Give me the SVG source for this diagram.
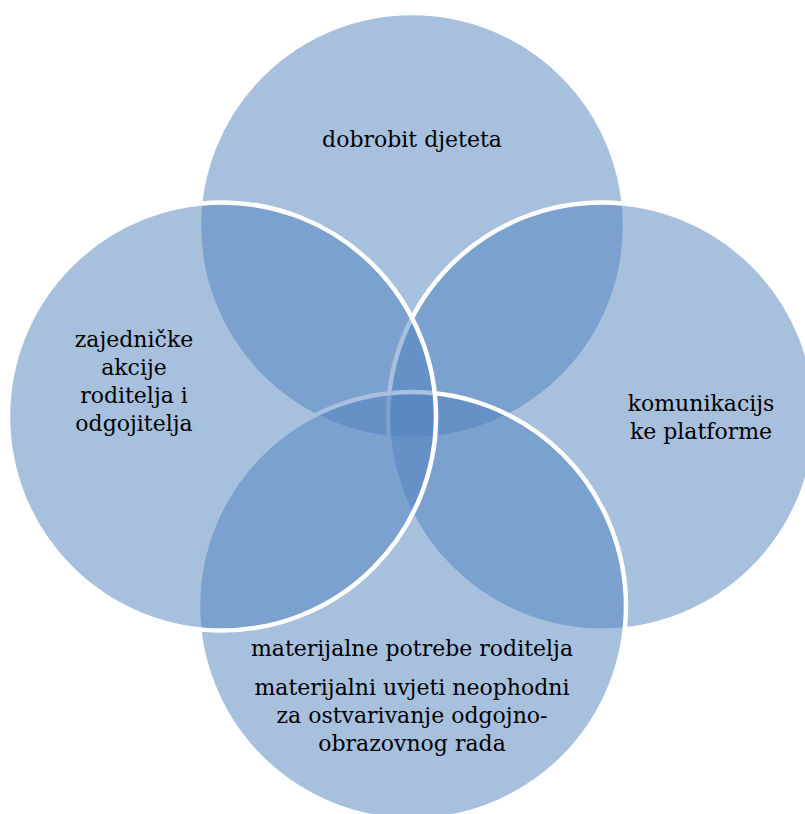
<svg xmlns="http://www.w3.org/2000/svg" width="805" height="814" viewBox="0 0 805 814">
<style>
.c{fill:#4F81BD;fill-opacity:0.5;stroke:#FFFFFF;stroke-width:4.5}
.t{font-family:"DejaVu Serif","Liberation Serif",serif;font-size:22px;fill:#000;text-anchor:middle}
</style>
<rect width="805" height="814" fill="#FFFFFF"/>
<g id="top">
<circle class="c" cx="412" cy="226" r="213"/>
<text class="t" x="412" y="147">dobrobit djeteta</text>
</g>
<g id="right">
<circle class="c" cx="602" cy="416.5" r="214"/>
<text class="t" x="701" y="411">komunikacijs</text>
<text class="t" x="701" y="438.5">ke platforme</text>
</g>
<g id="bottom">
<circle class="c" cx="412" cy="606" r="214"/>
<text class="t" x="412" y="656">materijalne potrebe roditelja</text>
<text class="t" x="412" y="695">materijalni uvjeti neophodni</text>
<text class="t" x="412" y="723">za ostvarivanje odgojno-</text>
<text class="t" x="412" y="751">obrazovnog rada</text>
</g>
<g id="left">
<circle class="c" cx="222" cy="416.5" r="214"/>
<text class="t" x="134" y="347">zajedničke</text>
<text class="t" x="134" y="375">akcije</text>
<text class="t" x="134" y="403">roditelja i</text>
<text class="t" x="134" y="431">odgojitelja</text>
</g>
<g id="connectors"/>
</svg>
